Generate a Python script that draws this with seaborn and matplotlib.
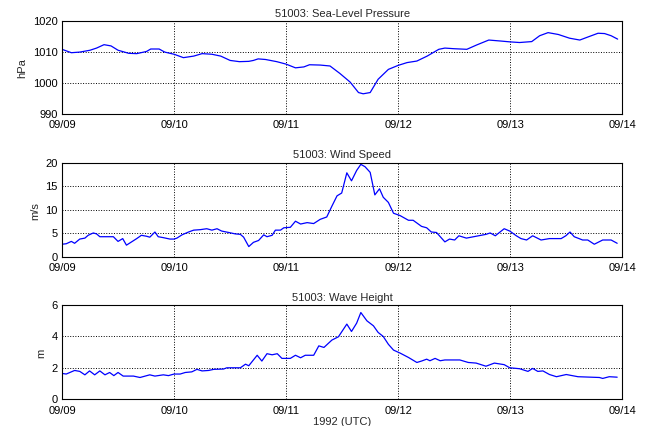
import numpy as np
import pandas as pd
import matplotlib
matplotlib.use("Agg")
import matplotlib.pyplot as plt
import matplotlib.dates as mdates
import seaborn as sns

# ---- data (hours since 1992-09-09 00:00 UTC) ----
pres_hours = [0, 2, 3.8, 6, 7.4, 9, 10.5, 12, 14.3, 16, 18.1, 19, 20.8, 22, 24, 26, 28.2, 30,
              32.1, 34, 36, 38, 40, 41, 42, 43.6, 46, 48, 50, 51.8, 53, 55.3, 57.4, 59.5,
              61.7, 63.5, 64.5, 66, 67.7, 69.9, 72, 73.9, 76, 78.2, 80.7, 82, 83.9, 86.7,
              88.8, 91.4, 93.8, 96, 98, 100.6, 102.3, 104.1, 106.3, 108.7, 110.9, 112.3,
              114.8, 116.2, 117.6, 119]
pres_vals = [1010.9, 1009.8, 1010.0, 1010.6, 1011.3, 1012.4, 1012.0, 1010.6, 1009.6, 1009.5,
             1010.2, 1011.0, 1011.0, 1010.0, 1009.3, 1008.2, 1008.7, 1009.5, 1009.3, 1008.7,
             1007.3, 1006.9, 1007.0, 1007.3, 1007.8, 1007.6, 1006.9, 1006.1, 1004.9, 1005.2,
             1005.9, 1005.8, 1005.5, 1003.1, 1000.3, 996.9, 996.5, 996.9, 1001.2, 1004.4,
             1005.7, 1006.6, 1007.1, 1008.7, 1010.9, 1011.3, 1011.1, 1010.9, 1012.3, 1013.9,
             1013.6, 1013.3, 1013.1, 1013.4, 1015.3, 1016.3, 1015.7, 1014.5, 1013.9, 1014.7,
             1016.1, 1016.0, 1015.3, 1014.2]

wind_hours = [0, 0.9, 2, 2.7, 3.8, 4.9, 5.6, 6.7, 7.4, 8.1, 9.5, 11, 12, 13, 13.8, 14.9, 16,
              17, 18.1, 18.8, 19.9, 20.6, 21.7, 23.1, 24, 24.6, 25.7, 27.1, 28.2, 29.6, 31,
              32.1, 33.2, 34.2, 35.7, 37.1, 38.2, 38.9, 40, 41, 42.1, 43.2, 43.9, 45, 45.7,
              46.8, 47.5, 48.9, 50, 51.1, 52.5, 53.9, 55.3, 56.7, 57.8, 58.9, 59.9, 61, 62,
              63.1, 64, 64.9, 66, 67, 68, 68.8, 69.9, 71, 72.4, 74.2, 75.2, 77, 78.1, 79.1,
              80.2, 82, 83, 84.1, 85, 86.6, 88.7, 90.8, 91.7, 92.8, 94.7, 95.9, 97.3, 98.3,
              99.5, 100.8, 102.6, 104.4, 106.9, 107.9, 108.8, 109.7, 111.5, 112.6, 114,
              115.8, 117.6, 118.9]
wind_vals = [2.7, 2.8, 3.3, 2.9, 3.8, 4.0, 4.6, 5.1, 4.9, 4.3, 4.3, 4.3, 3.3, 3.9, 2.5, 3.2,
             3.9, 4.6, 4.4, 4.2, 5.3, 4.3, 4.1, 3.8, 3.8, 4.0, 4.7, 5.3, 5.7, 5.8, 6.0, 5.7,
             6.0, 5.5, 5.2, 4.9, 4.8, 4.2, 2.2, 3.1, 3.5, 4.7, 4.3, 4.6, 5.7, 5.7, 6.2, 6.3,
             7.6, 7.0, 7.3, 7.1, 8.0, 8.5, 10.8, 13.0, 13.6, 17.9, 16.2, 18.4, 19.7, 19.2,
             18.0, 13.2, 14.5, 12.7, 11.6, 9.3, 8.8, 7.8, 7.8, 6.5, 6.2, 5.3, 5.2, 3.2, 3.8,
             3.6, 4.5, 4.0, 4.4, 4.8, 5.1, 4.5, 6.0, 5.5, 4.5, 3.9, 3.6, 4.5, 3.6, 3.9, 3.9,
             4.5, 5.3, 4.3, 3.6, 3.6, 2.7, 3.6, 3.6, 2.9]

wave_hours = [0, 0.9, 2.7, 3.8, 4.9, 5.9, 7, 8.1, 9.2, 10.2, 11.1, 12, 13.1, 15.3, 16.7, 18.8,
              19.9, 21.7, 22.8, 24, 25.3, 26.4, 27.8, 28.9, 30, 31.4, 32.5, 34.6, 35.3, 38.2,
              39.3, 40, 41.8, 42.8, 43.9, 45, 46.1, 47.1, 48.9, 50, 51.1, 52.1, 53.9, 55,
              56.1, 57.8, 59.2, 61, 62, 63.1, 64, 65.3, 66.7, 67.7, 68.8, 69.9, 71, 72.4,
              74.2, 76, 77, 78.1, 78.8, 79.9, 81, 82, 85.2, 87, 88.7, 90.8, 92.6, 94.7, 95.9,
              98, 99.8, 100.8, 101.9, 103, 104.4, 105.9, 108, 110.5, 115.1, 115.8, 117.2,
              118.9]
wave_vals = [1.64, 1.6, 1.83, 1.77, 1.55, 1.8, 1.55, 1.8, 1.55, 1.7, 1.5, 1.7, 1.47, 1.47,
             1.38, 1.55, 1.47, 1.55, 1.5, 1.6, 1.6, 1.7, 1.74, 1.9, 1.8, 1.83, 1.9, 1.92,
             2.0, 2.0, 2.23, 2.13, 2.8, 2.43, 2.9, 2.83, 2.9, 2.6, 2.6, 2.8, 2.64, 2.8, 2.8,
             3.4, 3.3, 3.77, 3.98, 4.79, 4.32, 4.85, 5.53, 5.0, 4.68, 4.26, 4.0, 3.5, 3.13,
             2.94, 2.66, 2.34, 2.43, 2.55, 2.45, 2.6, 2.45, 2.5, 2.5, 2.34, 2.3, 2.1, 2.3,
             2.2, 2.0, 1.94, 1.77, 1.96, 1.77, 1.8, 1.57, 1.43, 1.57, 1.43, 1.38, 1.32, 1.43,
             1.4]

titles = ["51003: Sea-Level Pressure", "51003: Wind Speed", "51003: Wave Height"]
ylabels = ["hPa", "m/s", "m"]
ylims = [(990, 1020), (0, 20), (0, 6)]
yticks = [[990, 1000, 1010, 1020], [0, 5, 10, 15, 20], [0, 2, 4, 6]]
xlabel = "1992 (UTC)"

start = pd.Timestamp("1992-09-09")
end = pd.Timestamp("1992-09-14")

def frame(hours, vals):
    return pd.DataFrame({"time": start + pd.to_timedelta(hours, unit="h"), "value": vals})

dfs = [frame(pres_hours, pres_vals), frame(wind_hours, wind_vals), frame(wave_hours, wave_vals)]

sns.set_style("white")
plt.rcParams["font.family"] = ["Liberation Sans", "DejaVu Sans"]
plt.rcParams["font.size"] = 8

fig = plt.figure(figsize=(6.5, 4.27), dpi=100)
fig.patch.set_facecolor("white")
boxes = [(0.0954, 0.731, 0.862, 0.217), (0.0954, 0.396, 0.862, 0.220), (0.0954, 0.063, 0.862, 0.220)]

for i, (df, box) in enumerate(zip(dfs, boxes)):
    ax = fig.add_axes(box)
    sns.lineplot(data=df, x="time", y="value", ax=ax, color="#0000ff", linewidth=0.9)
    ax.set_xlim(start, end)
    ax.set_ylim(*ylims[i])
    ax.set_yticks(yticks[i])
    ax.xaxis.set_major_locator(mdates.DayLocator())
    ax.xaxis.set_major_formatter(mdates.DateFormatter("%m/%d"))
    ax.grid(True, color="black", linestyle=":", linewidth=0.7)
    ax.tick_params(axis="x", direction="in", length=3, labelsize=8, colors="black", pad=4)
    ax.tick_params(axis="y", direction="in", length=3, labelsize=8, colors="black", pad=3)
    for lab in ax.get_yticklabels():
        lab.set_verticalalignment("bottom" if lab.get_text() == "" else "center")
    for s in ax.spines.values():
        s.set_color("black")
        s.set_linewidth(0.8)
    ax.set_title(titles[i], fontsize=8, pad=4)
    ax.set_ylabel(ylabels[i], fontsize=8)
    ax.set_xlabel(xlabel if i == 2 else "", fontsize=8, labelpad=1)

fig.savefig("out.png", dpi=100, facecolor="white")
